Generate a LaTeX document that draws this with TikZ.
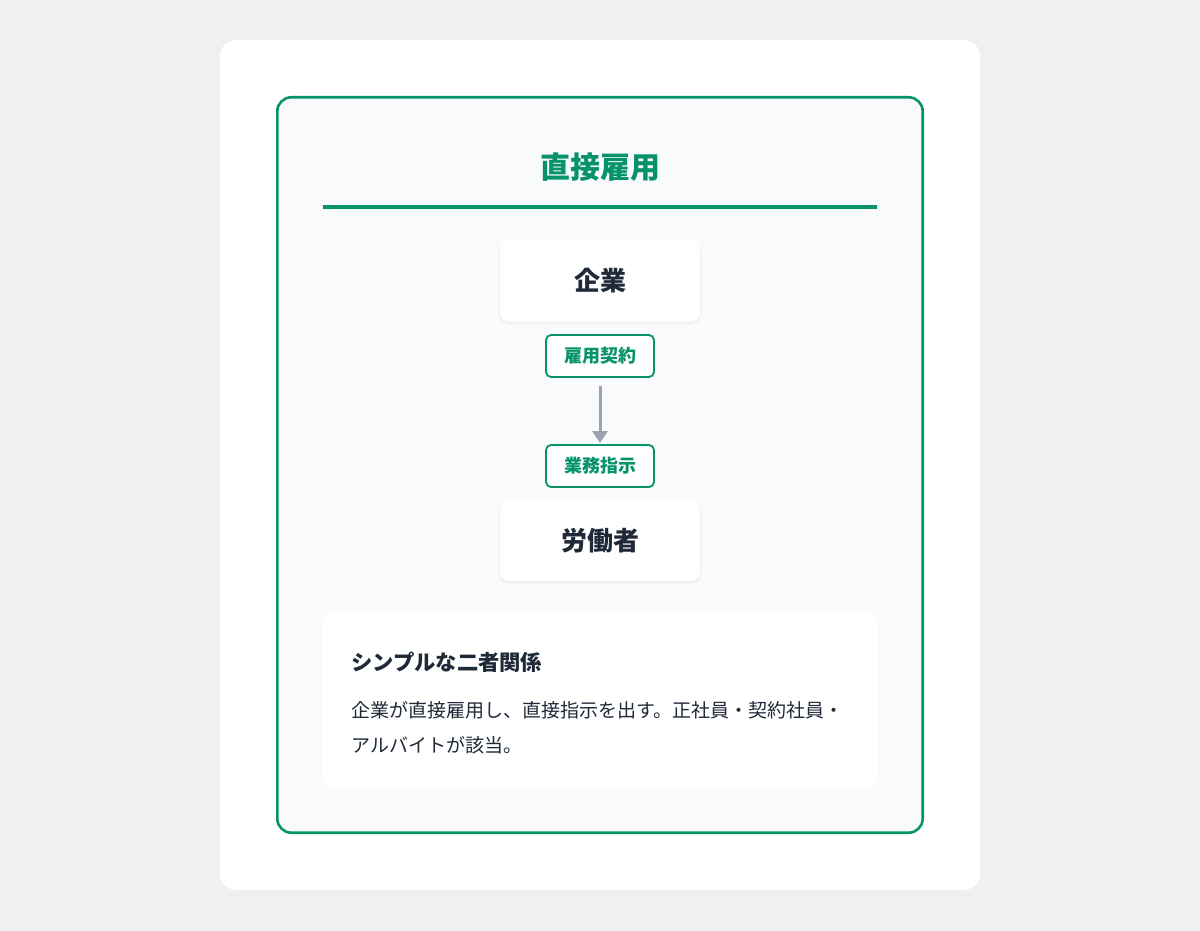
\documentclass[tikz,border=0pt]{standalone}
\usepackage{fontspec}
\setmainfont{Noto Sans CJK JP}
\newfontfamily\cjk{Noto Sans CJK JP}
\usetikzlibrary{arrows.meta,shadows}
\definecolor{pagebg}{HTML}{F0F0F0}
\definecolor{brand}{HTML}{07936A}
\definecolor{panelbg}{HTML}{F8FAFB}
\definecolor{ink}{HTML}{1F2937}
\definecolor{arrowgray}{HTML}{9CA3AF}
\tikzset{
  px/.style={x=1pt,y=-1pt},
  entity/.style={fill=white,rounded corners=9pt,minimum width=200pt,minimum height=81pt,inner sep=0pt,font=\cjk\bfseries\fontsize{26}{30}\selectfont,text=ink,
    drop shadow={opacity=0.07,shadow xshift=0pt,shadow yshift=-2pt,shadow scale=1.01}},
  tag/.style={draw=brand,line width=1.8pt,fill=white,rounded corners=5pt,minimum width=108pt,minimum height=42pt,inner sep=0pt,font=\cjk\bfseries\fontsize{18}{22}\selectfont,text=brand},
  flow/.style={draw=arrowgray,line width=3pt,-{Triangle[length=12pt,width=15pt]}},
}
\begin{document}
\begin{tikzpicture}[px]
\useasboundingbox (0,0) rectangle (1200,931);
\fill[pagebg] (0,0) rectangle (1200,931);
% outer card
\fill[white,rounded corners=16pt] (220,40) rectangle (980,890);
% green panel
\draw[brand,line width=2.6pt,fill=panelbg,rounded corners=14pt] (277.3,97.3) rectangle (922.7,832.7);
% title
\node[font=\cjk\bfseries\fontsize{30}{34}\selectfont,text=brand] (title) at (600,167) {直接雇用};
\draw[brand,line width=3.5pt] (323,207) -- (877,207);
% nodes
\node[entity] (company) at (600,281) {企業};
\node[tag] (contract) at (600,356) {雇用契約};
\node[tag] (order) at (600,466) {業務指示};
\node[entity] (worker) at (600,540.5) {労働者};
\draw[flow,shorten <=8pt,shorten >=1pt] (contract.south) -- (order.north);
% description
\fill[white,rounded corners=8pt] (323,612) rectangle (877,788);
\node[anchor=west,font=\cjk\bfseries\fontsize{21.3}{24}\selectfont,text=ink,inner sep=0pt] (subhead) at (351,662) {シンプルな二者関係};
\node[anchor=west,font=\cjk\fontsize{19}{22}\selectfont,text=ink,inner sep=0pt] (body1) at (351,710) {企業が直接雇用し、直接指示を出す。正社員・契約社員・};
\node[anchor=west,font=\cjk\fontsize{19}{22}\selectfont,text=ink,inner sep=0pt] (body2) at (351,745) {アルバイトが該当。};
\end{tikzpicture}
\end{document}
